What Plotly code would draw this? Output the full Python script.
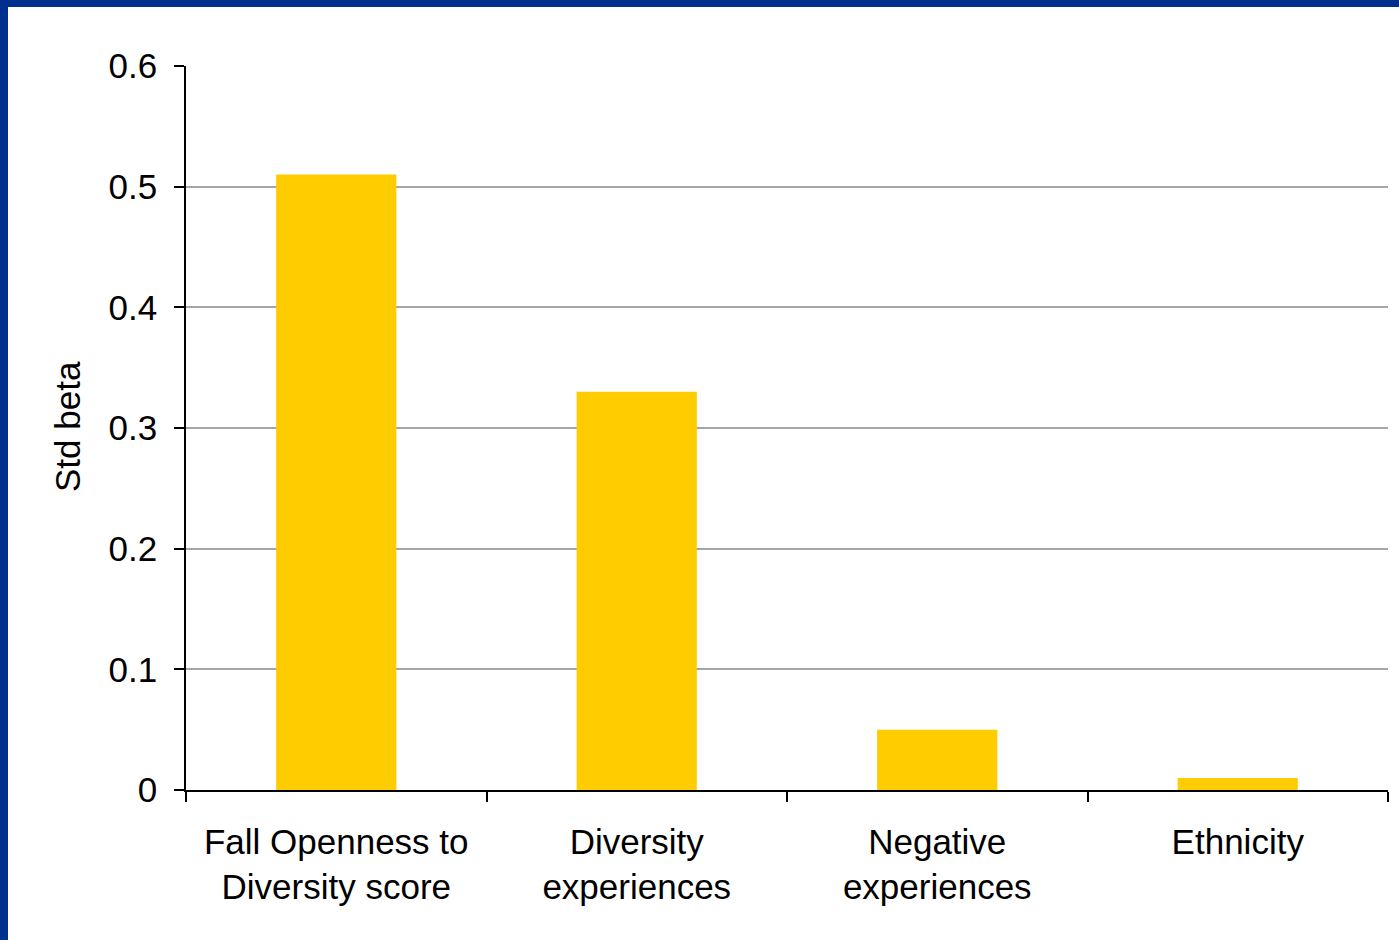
import plotly.graph_objects as go

categories = ["Fall Openness to<br>Diversity score", "Diversity<br>experiences", "Negative<br>experiences", "Ethnicity"]
std_beta = [0.51, 0.33, 0.05, 0.01]
y_ticks = [0, 0.1, 0.2, 0.3, 0.4, 0.5, 0.6]
y_tick_labels = ["0", "0.1", "0.2", "0.3", "0.4", "0.5", "0.6"]

W, H = 1399, 940
L, R, T, B = 186, 11, 66, 150
pw, ph = W - L - R, H - T - B

fig = go.Figure(go.Bar(x=categories, y=std_beta, width=0.4, marker=dict(color="#FFCC00", line=dict(width=0))))

font = dict(family="Liberation Sans, Arial, sans-serif", color="black")
fig.update_layout(
    width=W, height=H,
    margin=dict(l=L, r=R, t=T, b=B, pad=0),
    paper_bgcolor="white", plot_bgcolor="white",
    showlegend=False,
    font=font,
    xaxis=dict(showline=True, linecolor="black", linewidth=1.5, ticks="outside", tickson="boundaries",
               ticklen=10, tickcolor="black", tickwidth=1.5, tickfont=dict(size=35, **font),
               showgrid=False, ticklabelstandoff=20),
    yaxis=dict(range=[0, 0.6], tickvals=y_ticks, ticktext=y_tick_labels, showline=True, linecolor="black",
               linewidth=1.5, ticks="outside", ticklen=10, tickcolor="black", tickwidth=1.5,
               tickfont=dict(size=35, **font), showgrid=True, gridcolor="#A6A6A6", gridwidth=1.5,
               zeroline=False, ticklabelstandoff=10),
    annotations=[dict(text="Std beta", textangle=-90, xref="paper", yref="paper",
                      x=(68 - L) / pw, y=1 - (427 - T) / ph,
                      showarrow=False, font=dict(size=35, **font), xanchor="center", yanchor="middle")],
    shapes=[
        dict(type="rect", xref="paper", yref="paper", x0=(0 - L) / pw, x1=(8 - L) / pw,
             y0=1 - (H - T) / ph, y1=1 + T / ph, fillcolor="#00308F", line=dict(width=0), layer="above"),
        dict(type="rect", xref="paper", yref="paper", x0=(0 - L) / pw, x1=(W - L) / pw,
             y0=1 + (T - 7) / ph, y1=1 + T / ph, fillcolor="#00308F", line=dict(width=0), layer="above"),
    ],
)
fig.write_html("out.html", config={"displayModeBar": False},
               post_script="document.body.style.margin='0';document.body.style.padding='0';")
